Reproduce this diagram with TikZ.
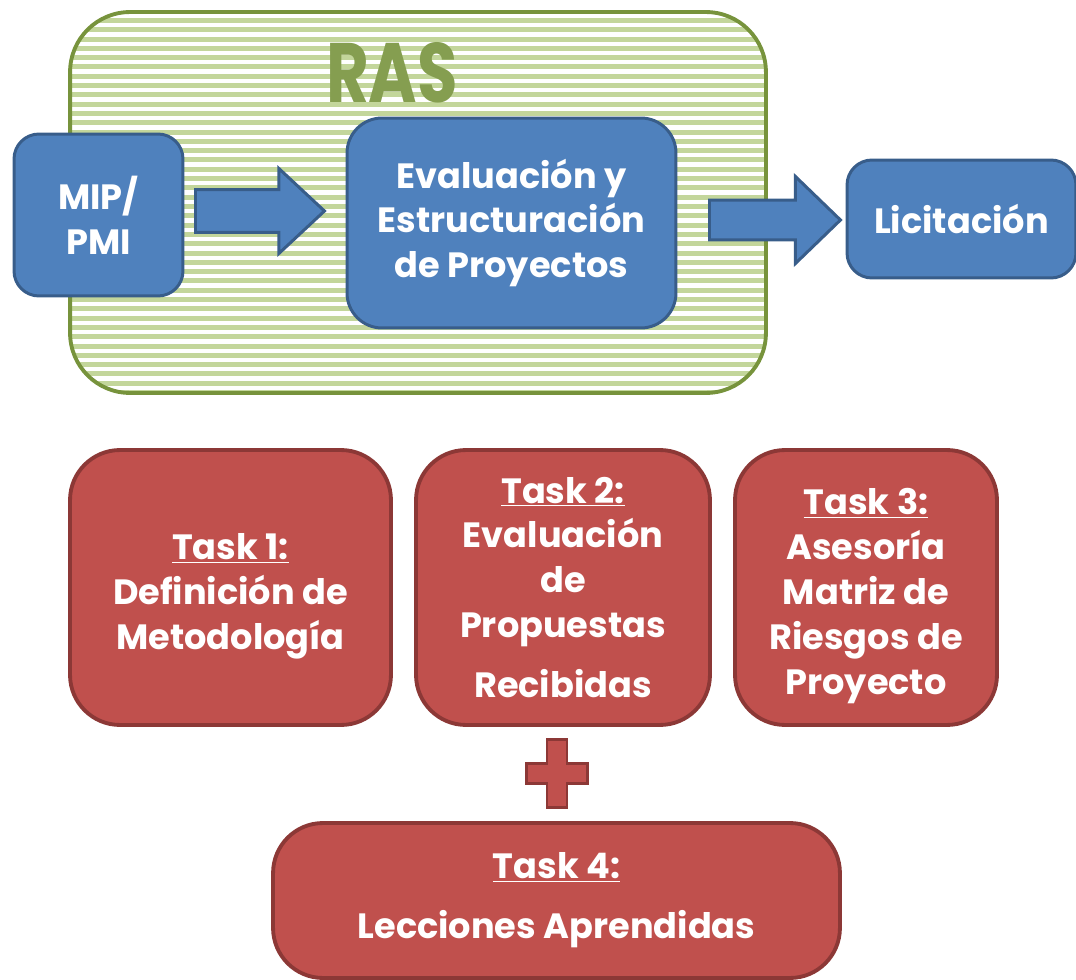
\documentclass[tikz,border=0pt]{standalone}
\usepackage{fontspec}
\setmainfont{Poppins}
\usetikzlibrary{positioning}
\usetikzlibrary{calc}
\usetikzlibrary{shapes.arrows}
\definecolor{rasgreen}{RGB}{119,147,60}
\definecolor{stripegreen}{RGB}{195,214,155}
\definecolor{boxblue}{RGB}{79,129,189}
\definecolor{edgeblue}{RGB}{56,93,138}
\definecolor{boxred}{RGB}{192,80,77}
\definecolor{edgered}{RGB}{140,56,54}
\newcommand{\boxfont}{\fontsize{20}{25.6}\selectfont\bfseries}
\tikzstyle{bnode}=[draw=edgeblue,fill=boxblue,line width=1.7pt,rounded corners=0.5cm,text=white,font=\boxfont,align=center,inner sep=0pt]
\tikzstyle{rnode}=[draw=edgered,fill=boxred,line width=2.2pt,rounded corners=1cm,text=white,font=\boxfont,align=center,inner sep=0pt]
\tikzstyle{barrow}=[single arrow,draw=edgeblue,fill=boxblue,line width=1.7pt,inner xsep=0pt,shape border rotate=0,anchor=tail]
\begin{document}
\begin{tikzpicture}[x=0.02cm,y=-0.02cm]
	\useasboundingbox (0,0) rectangle (1076,980);

	% RAS frame
	\begin{scope}
	\clip[rounded corners=1.2cm] (70,12) rectangle (766,393);
	\foreach \y in {18,27.3,...,393} \fill[stripegreen] (70,\y) rectangle (766,{\y+5});
	\end{scope}
	\node[draw=rasgreen,line width=2.2pt,rounded corners=1.2cm,minimum width=13.92cm,minimum height=7.62cm] (ras) at (418,202.5) {};
	\node[text=rasgreen!90!white,font=\fontsize{48}{48}\selectfont\bfseries] (rastitle) at (392,73) {\scalebox{0.78}[1]{RAS}};

	% Flow
	\node[bnode,minimum width=3.38cm,minimum height=3.24cm] (mip) at (98.5,215) {MIP/\\PMI};
	\node[bnode,rounded corners=0.7cm,minimum width=6.58cm,minimum height=4.2cm] (eval) at (511.5,223) {Evaluación y\\Estructuración\\de Proyectos};
	\node[bnode,minimum width=4.58cm,minimum height=2.36cm] (lic) at (961.5,219) {Licitación};
	\node[barrow,minimum height=2.58cm,inner ysep=0.4cm,single arrow head extend=0.42cm,single arrow tip angle=86] (arr1) at (194,211) {};
	\node[barrow,minimum height=2.62cm,inner ysep=0.37cm,single arrow head extend=0.47cm,single arrow tip angle=88] (arr2) at (708,220) {};

	% Tasks
	\node[rnode,minimum width=6.42cm,minimum height=5.5cm] (task1) at (230.5,587.5) {\underline{Task 1:}\\Definición de\\Metodología\\[-30pt]};
	\node[rnode,minimum width=5.88cm,minimum height=5.5cm] (task2) at (563,587.5) {\underline{Task 2:}\\Evaluación\\de\\Propuestas\\[0.3cm]Recibidas};
	\node[rnode,minimum width=5.24cm,minimum height=5.5cm] (task3) at (866,587.5) {\underline{Task 3:}\\Asesoría\\Matriz de\\Riesgos de\\Proyecto\\[-30pt]};
	\node[rnode,minimum width=11.34cm,minimum height=3.1cm] (task4) at (556.5,900.5) {\underline{Task 4:}\\[0.3cm]Lecciones Aprendidas};
	\coordinate (plus) at (557,773.5);
	\draw[draw=edgered,fill=boxred,line width=1.7pt,shift={(plus)}] (-10,-34) -- (10,-34) -- (10,-10) -- (30.5,-10) -- (30.5,10) -- (10,10) -- (10,34) -- (-10,34) -- (-10,10) -- (-30.5,10) -- (-30.5,-10) -- (-10,-10) -- cycle;

\end{tikzpicture}
\end{document}
